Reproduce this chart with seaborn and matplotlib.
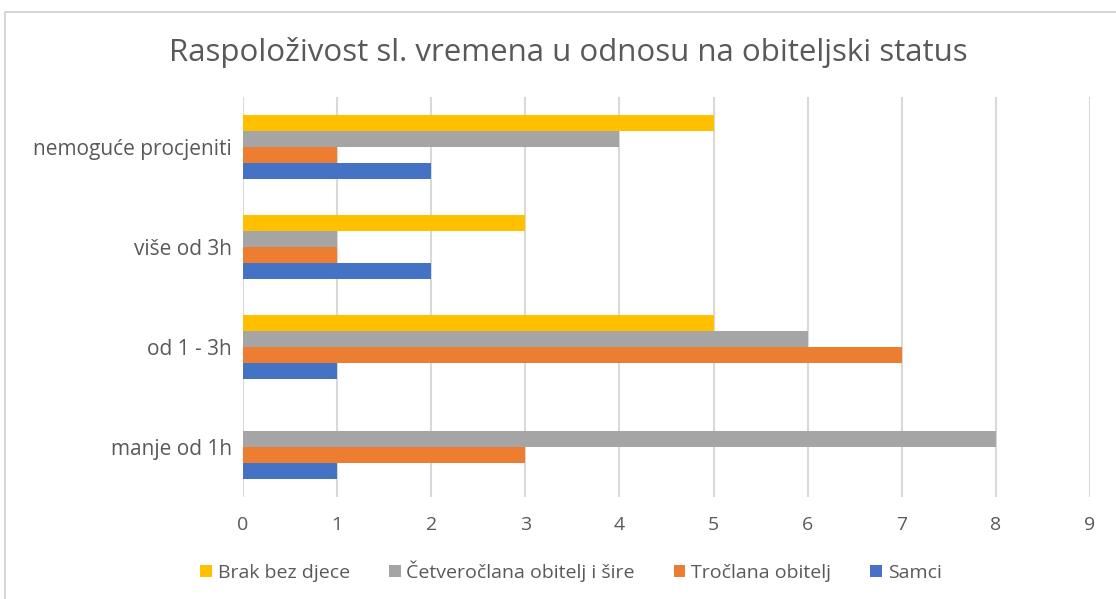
import matplotlib
matplotlib.use("Agg")
import matplotlib.pyplot as plt
import seaborn as sns
import pandas as pd
from matplotlib.patches import Rectangle

categories = ["nemoguće procjeniti", "više od 3h", "od 1 - 3h", "manje od 1h"]
series = ["Brak bez djece", "Četveročlana obitelj i šire", "Tročlana obitelj", "Samci"]
brak = [5, 3, 5, 0]
cetvero = [4, 1, 6, 8]
trocl = [1, 1, 7, 3]
samci = [2, 2, 1, 1]
colors = ["#FFC000", "#A5A5A5", "#ED7D31", "#4472C4"]

rows = []
for s, vals in zip(series, [brak, cetvero, trocl, samci]):
    for c, v in zip(categories, vals):
        rows.append({"cat": c, "series": s, "val": v})
df = pd.DataFrame(rows)

sns.set_style("white")
plt.rcParams['font.family'] = ['Open Sans', 'DejaVu Sans']

fig = plt.figure(figsize=(11.16, 5.99), dpi=100)
ax = fig.add_axes([243/1116, 1-497/599, (1090-243)/1116, 400/599])

sns.barplot(data=df, y="cat", x="val", hue="series", order=categories,
            hue_order=series, palette=colors, orient="h", width=0.64,
            saturation=1, ax=ax, legend=True, linewidth=0)

ax.set_xlim(0, 9)
ax.set_ylim(3.5, -0.5)
ax.set_xticks(range(10))
ax.grid(axis="x", color="#D9D9D9", linewidth=1.5)
ax.set_axisbelow(True)
for sp in ax.spines.values():
    sp.set_visible(False)
ax.set_xlabel("")
ax.set_ylabel("")
ax.tick_params(axis="both", length=0, labelcolor="#595959")
ax.tick_params(axis="x", pad=14, labelsize=14)
ax.tick_params(axis="y", pad=8, labelsize=15)

handles, labels = ax.get_legend_handles_labels()
ax.get_legend().remove()
fig.legend(handles, labels, loc="center", bbox_to_anchor=(571/1116, 1-571/599),
           ncol=4, frameon=False, fontsize=14, labelcolor="#595959",
           handlelength=0.6, handleheight=0.6, handletextpad=0.3, columnspacing=2.0)

fig.text(568/1116, 1-52/599, "Raspoloživost sl. vremena u odnosu na obiteljski status",
         ha="center", va="center", fontsize=22.5, color="#595959")

fig.patches.append(Rectangle((5/1116, -0.1), 1.2, 1-12/599+0.1, transform=fig.transFigure,
                             fill=False, edgecolor="#D0D0D0", linewidth=1.2))

fig.savefig("out.png", dpi=100)
